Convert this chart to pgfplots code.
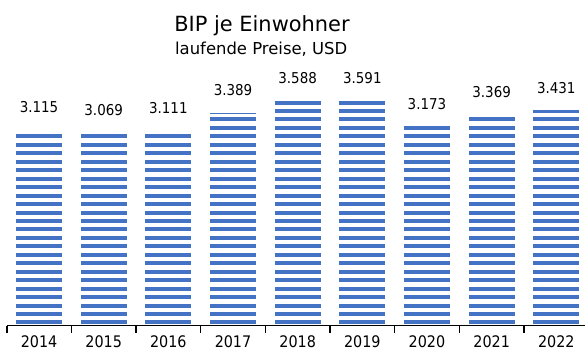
\documentclass[border=0pt]{standalone}
\usepackage{fontspec}
\setmainfont{DejaVu Sans}
\newfontfamily\numfont[FakeStretch=0.9]{DejaVu Sans}
\usepackage{pgfplots}
\pgfplotsset{compat=1.18}
\definecolor{barblue}{HTML}{4472C4}
\begin{document}
\begin{tikzpicture}
\path[use as bounding box] (-6.7bp,-25.5bp) rectangle (578.3bp,325.5bp);
\begin{axis}[
  at={(0,0)}, anchor=south west,
  scale only axis,
  width=578.3bp, height=265.5bp,
  xmin=-0.5, xmax=8.444,
  ymin=0, ymax=4230,
  axis x line*=bottom,
  axis y line=none,
  x axis line style={line width=1.6bp, black},
  xtick={0,1,2,3,4,5,6,7,8},
  xticklabels={2014,2015,2016,2017,2018,2019,2020,2021,2022},
  major tick length=0pt,
  minor xtick={-0.5,0.5,1.5,2.5,3.5,4.5,5.5,6.5,7.5},
  minor tick length=7bp,
  tick align=outside,
  minor tick style={line width=1.6bp, black},
  xticklabel style={font=\numfont\fontsize{16}{16}\selectfont, anchor=base, yshift=-21.5bp, inner sep=0pt, text depth=0pt},
  clip=false,
]
\addplot[ycomb, mark=none, line width=46bp, barblue,
  dash pattern=on 4bp off 4.46bp, dash phase=7.46bp,
  point meta=explicit symbolic,
  nodes near coords,
  every node near coord/.append style={text=black, font=\numfont\fontsize{15}{15}\selectfont, anchor=base, yshift=17bp, inner sep=0pt}]
coordinates {
  (0,3115) [3.115]
  (1,3069) [3.069]
  (2,3111) [3.111]
  (3,3389) [3.389]
  (4,3588) [3.588]
  (5,3591) [3.591]
  (6,3173) [3.173]
  (7,3369) [3.369]
  (8,3431) [3.431]
};
\end{axis}
\node[anchor=base, inner sep=0pt, font=\fontsize{21}{21}\selectfont] at (255.3bp,293.8bp) {BIP je Einwohner};
\node[anchor=base, inner sep=0pt, font=\fontsize{16.5}{16.5}\selectfont] at (254.5bp,271.2bp) {laufende Preise, USD};
\end{tikzpicture}
\end{document}
